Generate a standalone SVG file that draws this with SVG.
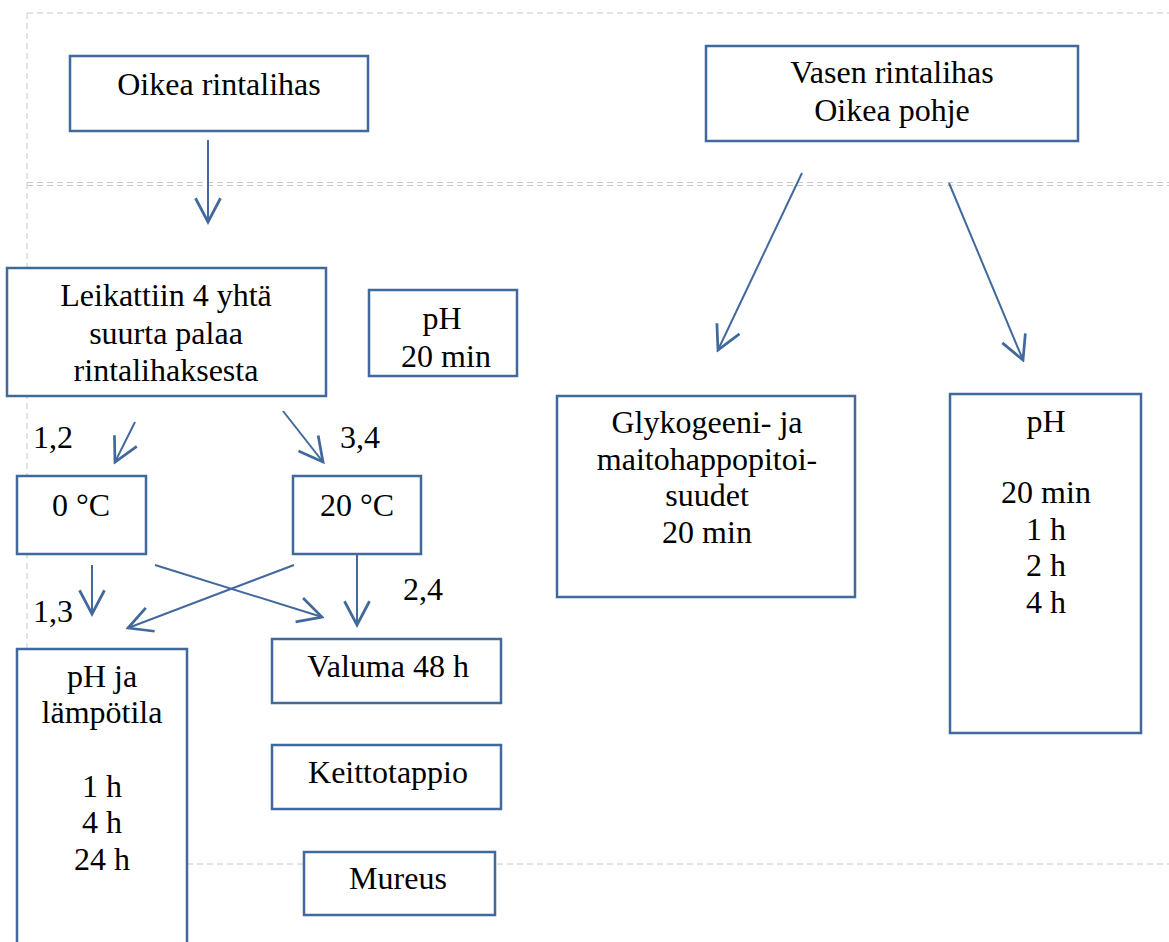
<svg xmlns="http://www.w3.org/2000/svg" width="1169" height="942" viewBox="0 0 1169 942">
<style>
.bg{fill:#fff}
.guide{stroke:#c8c8c8;stroke-width:1;stroke-dasharray:6,4;fill:none}
.box{fill:#fff;stroke:#41699c;stroke-width:2.5}
.con{stroke:#41699c;stroke-width:2;fill:none;marker-end:url(#ah)}
text{font-family:"Liberation Serif","Times New Roman",serif;font-size:32px;fill:#000}
.c{text-anchor:middle}
</style>
<defs>
<marker id="ah" markerUnits="userSpaceOnUse" markerWidth="30" markerHeight="30" viewBox="-22 -12 24 24" refX="0" refY="0" orient="auto">
<path d="M-19,-10 L0,0 L-19,10" fill="none" stroke="#41699c" stroke-width="2.2"/>
</marker>
</defs>
<rect class="bg" x="0" y="0" width="1169" height="942"/>
<g id="guides">
<line class="guide" x1="27" y1="13" x2="1169" y2="13"/>
<line class="guide" x1="27" y1="13" x2="27" y2="650"/>
<line class="guide" x1="27" y1="182.5" x2="1169" y2="182.5"/>
<line class="guide" x1="27" y1="185.5" x2="1169" y2="185.5"/>
<line class="guide" x1="27" y1="864" x2="1169" y2="864"/>
</g>
<g id="connectors">
<line class="con" x1="208" y1="140" x2="208" y2="222"/>
<line class="con" x1="802" y1="173" x2="718" y2="350"/>
<line class="con" x1="949" y1="183" x2="1023" y2="360"/>
<line class="con" x1="135" y1="422" x2="115" y2="462"/>
<line class="con" x1="283" y1="411" x2="323" y2="462"/>
<line class="con" x1="92" y1="565" x2="92" y2="614"/>
<line class="con" x1="155" y1="565" x2="322" y2="617"/>
<line class="con" x1="294" y1="565" x2="128" y2="628"/>
<line class="con" x1="357" y1="554" x2="357" y2="625"/>
</g>
<g id="labels">
<text x="33" y="448">1,2</text>
<text x="340" y="448">3,4</text>
<text x="33" y="622">1,3</text>
<text x="403" y="600">2,4</text>
</g>
<g id="oikea-rintalihas">
<rect class="box" x="70" y="56" width="298" height="75"/>
<text class="c" x="219" y="95">Oikea rintalihas</text>
</g>
<g id="vasen-rintalihas">
<rect class="box" x="706" y="46" width="372" height="95"/>
<text class="c" x="892" y="83">Vasen rintalihas</text>
<text class="c" x="892" y="121">Oikea pohje</text>
</g>
<g id="leikattiin">
<rect class="box" x="7" y="268" width="319" height="128"/>
<text class="c" x="166" y="306">Leikattiin 4 yhtä</text>
<text class="c" x="166" y="344">suurta palaa</text>
<text class="c" x="166" y="381">rintalihaksesta</text>
</g>
<g id="ph-20min">
<rect class="box" x="369" y="290" width="148" height="86"/>
<text class="c" x="442" y="329">pH</text>
<text class="c" x="446" y="367">20 min</text>
</g>
<g id="t0">
<rect class="box" x="17" y="476" width="129" height="78"/>
<text class="c" x="81" y="516">0 °C</text>
</g>
<g id="t20">
<rect class="box" x="293" y="476" width="128" height="78"/>
<text class="c" x="357" y="516">20 °C</text>
</g>
<g id="ph-lampotila">
<rect class="box" x="17" y="649" width="170" height="305"/>
<text class="c" x="102" y="687">pH ja</text>
<text class="c" x="102" y="723">lämpötila</text>
<text class="c" x="102" y="797">1 h</text>
<text class="c" x="102" y="833">4 h</text>
<text class="c" x="102" y="870">24 h</text>
</g>
<g id="valuma">
<rect class="box" x="272" y="639" width="229" height="64"/>
<text class="c" x="388" y="677">Valuma 48 h</text>
</g>
<g id="keittotappio">
<rect class="box" x="272" y="745" width="229" height="64"/>
<text class="c" x="388" y="783">Keittotappio</text>
</g>
<g id="mureus">
<rect class="box" x="304" y="852" width="191" height="63"/>
<text class="c" x="398" y="889">Mureus</text>
</g>
<g id="glykogeeni">
<rect class="box" x="557" y="396" width="298" height="201"/>
<text class="c" x="707" y="433">Glykogeeni- ja</text>
<text class="c" x="707" y="470">maitohappopitoi-</text>
<text class="c" x="707" y="506">suudet</text>
<text class="c" x="707" y="543">20 min</text>
</g>
<g id="ph-right">
<rect class="box" x="950" y="394" width="191" height="339"/>
<text class="c" x="1046" y="432">pH</text>
<text class="c" x="1046" y="503">20 min</text>
<text class="c" x="1046" y="540">1 h</text>
<text class="c" x="1046" y="576">2 h</text>
<text class="c" x="1046" y="613">4 h</text>
</g>
</svg>
